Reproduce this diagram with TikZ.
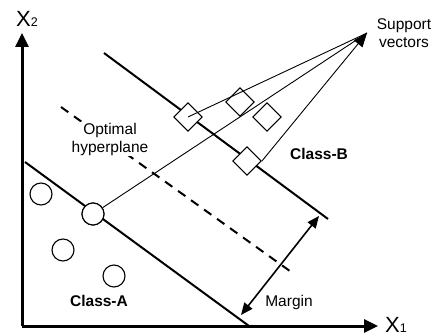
\documentclass[tikz,border=0pt]{standalone}
\usepackage{fontspec}
\setmainfont{Liberation Sans}
\usetikzlibrary{arrows.meta}
\begin{document}
\begin{tikzpicture}[x=1pt,y=-1pt,
  sv/.style={draw,fill=white,line width=1.1pt,minimum size=20pt,inner sep=0pt,rotate=45},
  pt/.style={draw,fill=white,circle,line width=1.1pt,minimum size=22pt,inner sep=0pt},
  lbl/.style={font=\fontsize{15.5}{18}\selectfont,inner sep=0pt,align=center},
  blbl/.style={font=\fontsize{15.5}{18}\selectfont\bfseries,inner sep=0pt},
  axis/.style={line width=3pt,-{Triangle[length=14pt,width=13pt]}},
  bound/.style={line width=2pt},
  thin/.style={line width=0.9pt}]
\useasboundingbox (0,0) rectangle (441,336);
% axes
\coordinate (O) at (22,326);
\coordinate (xe) at (378,326);
\coordinate (ye) at (22,33);
\draw[axis] (O) -- (xe);
\draw[axis] (O) -- (ye);
\node[inner sep=0pt] (xl) at (396,325) {{\fontsize{22}{22}\selectfont X}{\fontsize{12.5}{12.5}\selectfont 1}};
\node[inner sep=0pt] (yl) at (27,19) {{\fontsize{22}{22}\selectfont X}{\fontsize{12.5}{12.5}\selectfont 2}};
% boundary lines
\coordinate (a1) at (25,162);
\coordinate (a2) at (249,326);
\coordinate (b1) at (104,53);
\coordinate (b2) at (328,219);
\coordinate (h1) at (61,107);
\coordinate (h2) at (294,274);
\draw[bound] (a1) -- (a2);
\draw[bound] (b1) -- (b2);
\draw[bound,dash pattern=on 9pt off 7pt] (h1) -- (h2);
% margin arrow
\coordinate (m1) at (241,315);
\coordinate (m2) at (319,216);
\draw[line width=1.6pt,{Triangle[length=12pt,width=10pt]}-{Triangle[length=12pt,width=10pt]}] (m1) -- (m2);
\node[lbl] (margin) at (289,302) {Margin};
% support vectors tip
\coordinate (tip) at (367,33);
% circles
\node[pt] (c0) at (93,214) {};
\node[pt] (c1) at (41,194) {};
\node[pt] (c2) at (63,250) {};
\node[pt] (c3) at (114,276) {};
% squares
\node[sv] (s1) at (188,117) {};
\node[sv] (s2) at (240,102) {};
\node[sv] (s3) at (267,117) {};
\node[sv] (s4) at (247,161) {};
% labels
\node[lbl,fill=white,inner sep=1pt] (opt) at (110,139) {Optimal\\hyperplane};
% lines to tip
\draw[thin] (c0) -- (tip);
\draw[thin] (s1.center) -- (tip);
\draw[thin,-{Triangle[length=14pt,width=11pt]}] (s4.south east) -- (tip);
% redraw circle c0 on top
\node[pt] at (c0) {};
\node[lbl] (sup) at (404,33.5) {Support\\vectors};
\node[blbl] (ca) at (99,301) {Class-A};
\node[blbl] (cb) at (319,154) {Class-B};
\end{tikzpicture}
\end{document}
